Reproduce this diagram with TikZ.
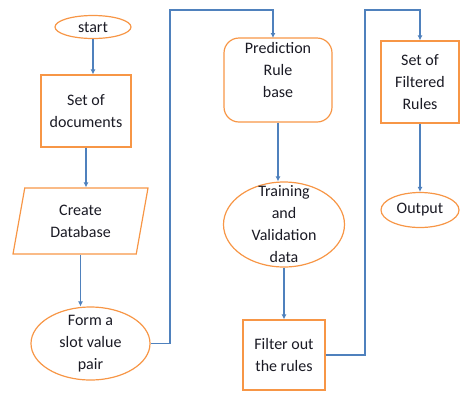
\documentclass[tikz,border=0pt]{standalone}
\usepackage{fontspec}
\setmainfont{Carlito}
\usetikzlibrary{shapes.geometric,arrows.meta}
\definecolor{ofOrange}{HTML}{F79646}
\definecolor{ofBlue}{HTML}{4F81BD}
\definecolor{txt}{HTML}{1A1A24}
\tikzset{
  x=1pt,y=-1pt,
  base/.style={draw=ofOrange,line width=1.2pt,inner sep=0pt,align=center,text=txt,
    font=\fontsize{16}{21.8}\selectfont},
  oval/.style={base,ellipse},
  box/.style={base,rectangle},
  rbox/.style={base,rectangle,rounded corners=15pt},
  para/.style={base,trapezium,trapezium left angle=70,trapezium right angle=110,
    trapezium stretches body=true},
  lbl/.style={inner sep=0pt,align=center,text=txt,font=\fontsize{16}{21.8}\selectfont},
  arr/.style={draw=ofBlue,line width=1.2pt,-{Latex[length=5pt,width=5pt]}}
}
\begin{document}
\begin{tikzpicture}
\useasboundingbox (0,0) rectangle (460,392);
\node[oval,minimum width=76pt,minimum height=23pt] (start) at (93,27) {start};
\node[box,minimum width=90pt,minimum height=72pt] (docs) at (86,111) {Set of\\documents};
\node[para,minimum width=135pt,minimum height=66pt] (db) at (80.5,221) {Create\\Database};
\node[oval,minimum width=119pt,minimum height=73pt] (slot) at (90.5,343.5) {};
\node[lbl] (slottxt) at (90.5,343.5) {Form a\\slot value\\pair};
\node[rbox,minimum width=108pt,minimum height=84pt] (pred) at (278,80) {};
\node[lbl] (predtxt) at (278,70) {Prediction\\Rule\\base};
\node[oval,minimum width=121pt,minimum height=85pt] (train) at (284,224.5) {};
\node[lbl] (traintxt) at (284,224) {Training\\and\\Validation\\data};
\node[box,minimum width=82pt,minimum height=70pt] (filter) at (284,355) {Filter out\\the rules};
\node[box,minimum width=78pt,minimum height=82pt] (rules) at (420,82) {Set of\\Filtered\\Rules};
\node[oval,minimum width=78pt,minimum height=35pt] (out) at (420,210) {Output};
\coordinate (c1) at (170,10);
\coordinate (c2) at (365,10);
\coordinate (pin) at (273,38);
\draw[arr] (start.south) -- (start.south |- docs.north);
\draw[arr] (docs.south) -- (docs.south |- db.north);
\draw[arr] (db.south) -- (db.south |- slot.north);
\draw[arr] (slot.east) -| (c1) -| (pin);
\draw[arr] (pred.south) -- (pred.south |- train.north);
\draw[arr] (train.south) -- (train.south |- filter.north);
\draw[arr] (filter.east) -| (c2) -| (rules.north);
\draw[arr] (rules.south) -- (rules.south |- out.north);
\end{tikzpicture}
\end{document}
